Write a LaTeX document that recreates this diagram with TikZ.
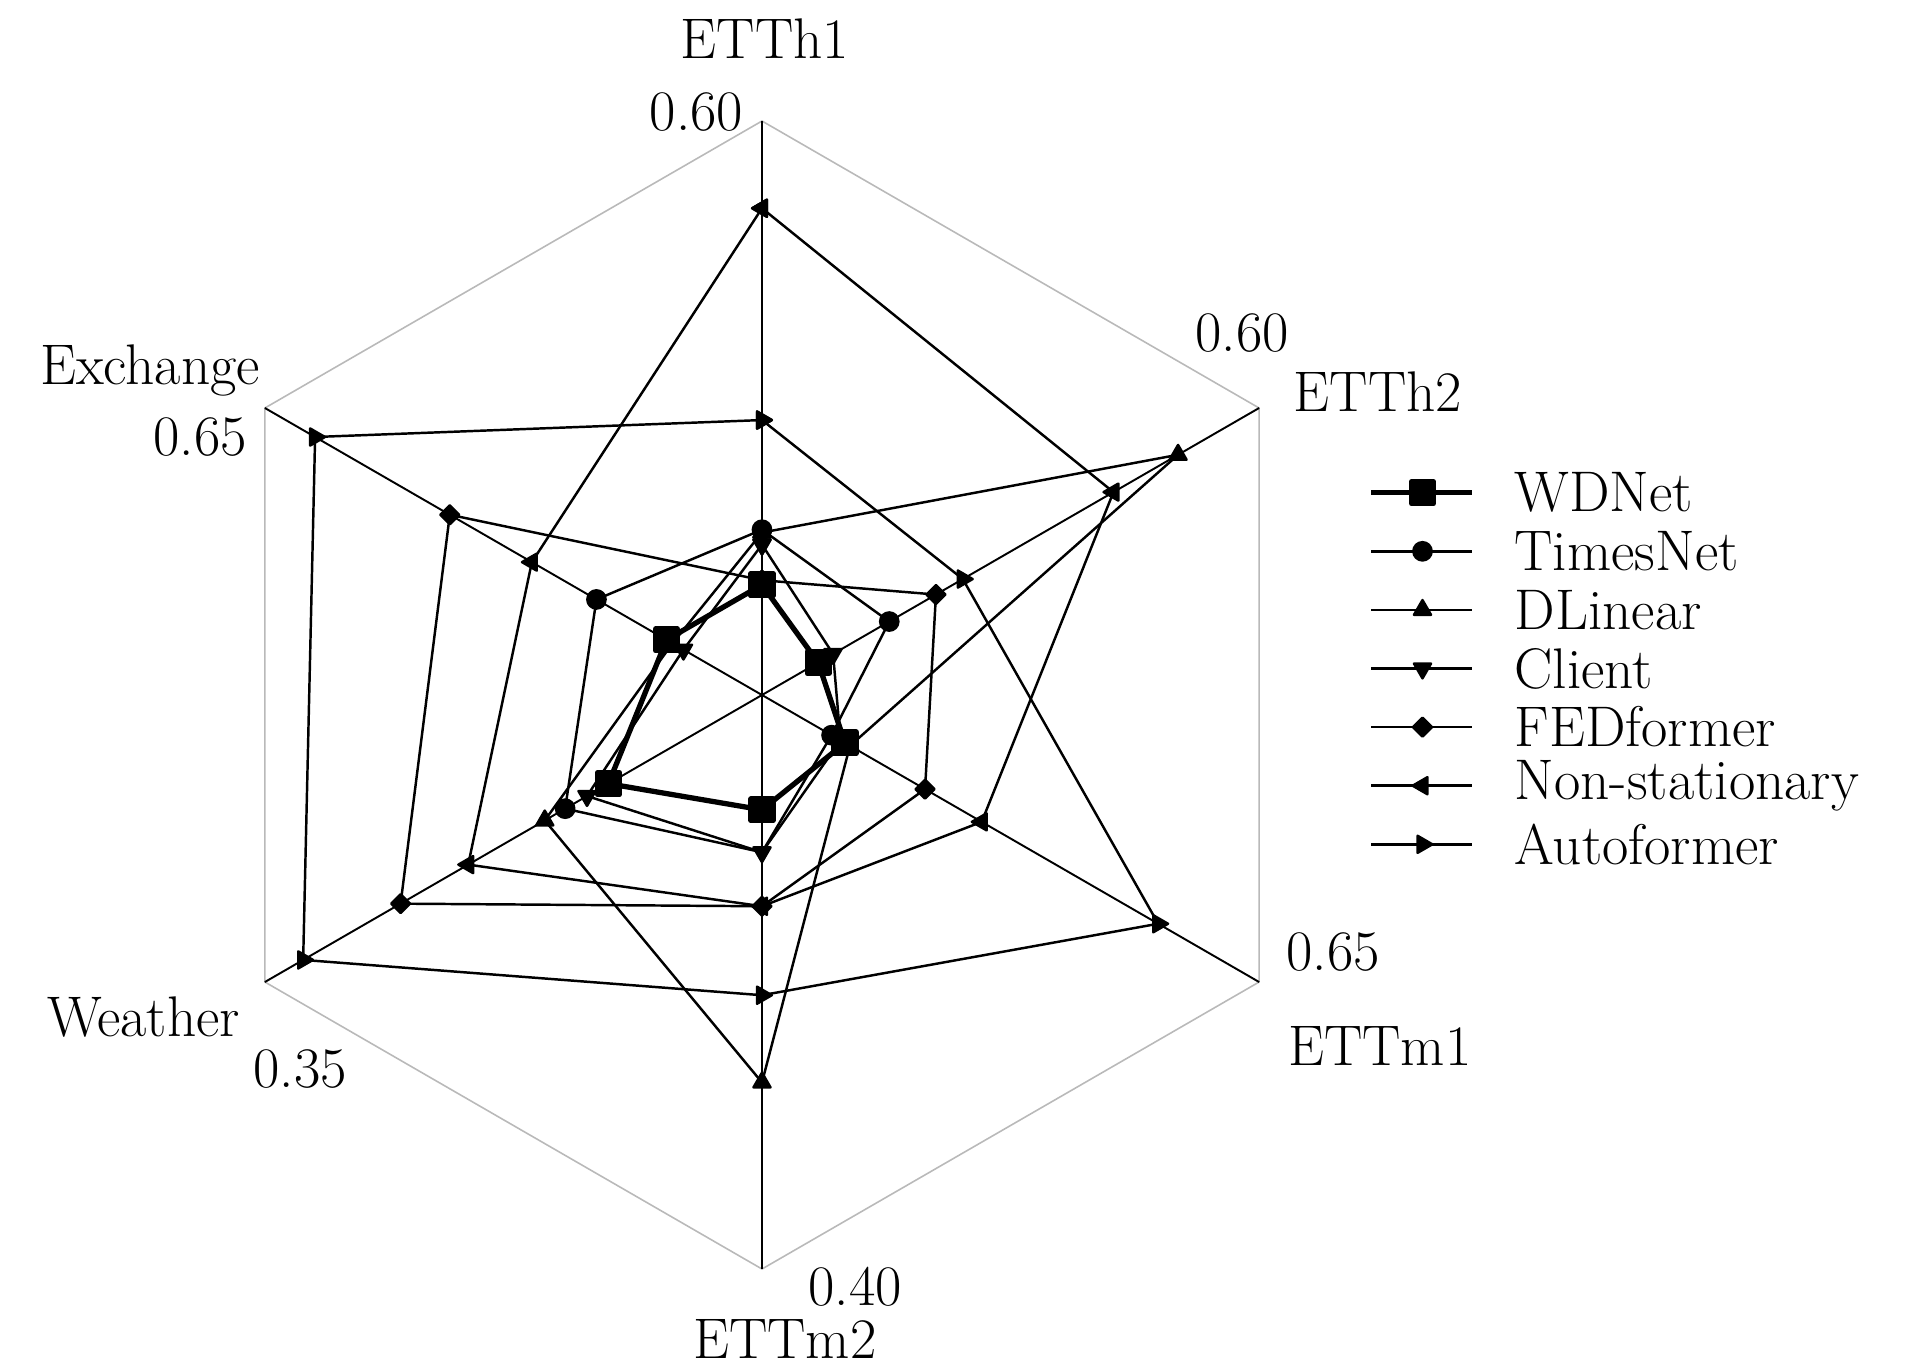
\documentclass[tikz,border=0pt]{standalone}
\usetikzlibrary{plotmarks}
\newcommand{\Rad}{5.74}

\begin{document}
\begin{tikzpicture}[every node/.style={font=\fontsize{16.3}{19}\selectfont, inner sep=0pt},
    gridline/.style={gray!55, line width=0.45pt},
    axisline/.style={black, line width=0.55pt},
    series/.style={black, line width=0.7pt, line join=round},
    best/.style={black, line width=1.5pt, line join=round},
    mk sq/.style={mark=square*, mark size=3.1pt, mark options={solid, fill=black}},
    mk dot/.style={mark=*, mark size=2.6pt, mark options={solid, fill=black}},
    mk up/.style={mark=triangle*, mark size=2.8pt, mark options={solid, fill=black}},
    mk down/.style={mark=triangle*, mark size=2.8pt, mark options={solid, fill=black, rotate=180}},
    mk dia/.style={mark=square*, mark size=1.9pt, mark options={solid, fill=black, rotate=45}},
    mk left/.style={mark=triangle*, mark size=2.8pt, mark options={solid, fill=black, rotate=90}},
    mk right/.style={mark=triangle*, mark size=2.8pt, mark options={solid, fill=black, rotate=-90}}]
    \useasboundingbox (-7.62,-6.75) rectangle (11.51,6.95);
    % Outer hexagon and axes
    \draw[gridline] (90:\Rad) \foreach \a in {30,-30,-90,-150,-210} { -- (\a:\Rad) } -- cycle;
    \foreach \a in {90,30,-30,-90,-150,-210} {
        \draw[axisline] (0,0) -- (\a:\Rad);
    }
    % Series (ETTh1, ETTh2, ETTm1, ETTm2, Weather, Exchange)
    \begin{scope}[x=\Rad cm, y=\Rad cm]
        \draw[series, mk right] plot coordinates {(90:0.479) (30:0.404) (-30:0.797) (-90:0.523) (210:0.923) (150:0.899) (90:0.479)};
        \draw[series, mk left] plot coordinates {(90:0.848) (30:0.707) (-30:0.442) (-90:0.368) (210:0.591) (150:0.463) (90:0.848)};
        \draw[series, mk dia] plot coordinates {(90:0.200) (30:0.350) (-30:0.328) (-90:0.368) (210:0.727) (150:0.628) (90:0.200)};
        \draw[series, mk up] plot coordinates {(90:0.283) (30:0.837) (-30:0.177) (-90:0.675) (210:0.437) (150:0.180) (90:0.283)};
        % ETTm2 point hidden under Client
        \draw[series, mk dot, mark indices={1,2,3,5,6}] plot coordinates {(90:0.288) (30:0.256) (-30:0.140) (-90:0.274) (210:0.396) (150:0.333) (90:0.288)};
        \draw[series, mk down] plot coordinates {(90:0.262) (30:0.143) (-30:0.158) (-90:0.274) (210:0.352) (150:0.158) (90:0.262)};
        \draw[best, mk sq] plot coordinates {(90:0.192) (30:0.113) (-30:0.167) (-90:0.200) (210:0.309) (150:0.192) (90:0.192)};
    \end{scope}
    % Axis labels and limits
    \node (ETTh1) at (0.03,6.56) {ETTh1};
    \node (maxETTh1) at (-0.655,5.825) {0.60};
    \node (maxETTh2) at (4.80,3.62) {0.60};
    \node (ETTh2) at (6.16,3.03) {ETTh2};
    \node (maxETTm1) at (5.71,-2.575) {0.65};
    \node (ETTm1) at (6.18,-3.51) {ETTm1};
    \node (maxETTm2) at (0.93,-5.92) {0.40};
    \node (ETTm2) at (0.23,-6.44) {ETTm2};
    \node (maxWeather) at (-4.62,-3.74) {0.35};
    \node (Weather) at (-6.185,-3.225) {Weather};
    \node (maxExchange) at (-5.62,2.575) {0.65};
    \node (Exchange) at (-6.12,3.25) {Exchange};
    % Legend
    \foreach \lbl/\mk/\i in {WDNet/mk sq/0, TimesNet/mk dot/1, DLinear/mk up/2, Client/mk down/3,
            FEDformer/mk dia/4, Non-stationary/mk left/5, Autoformer/mk right/6} {
        \pgfmathsetmacro{\y}{2.023-0.586*\i}
        \ifnum\i=0
            \draw[best, \mk, mark indices={2}] plot coordinates {(6.09,\y) (6.605,\y) (7.10,\y)};
        \else
            \draw[series, \mk, mark indices={2}] plot coordinates {(6.09,\y) (6.605,\y) (7.10,\y)};
        \fi
        \node[anchor=west] (leg\i) at (7.52,\y) {\lbl};
    }
\end{tikzpicture}
\end{document}
